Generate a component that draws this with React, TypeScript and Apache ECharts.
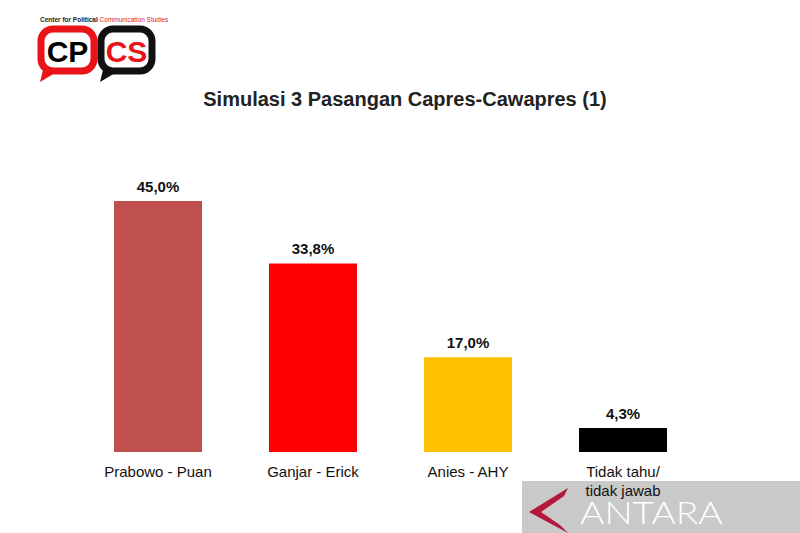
import React, { useEffect, useRef } from "react";
import * as echarts from "echarts";

const categories = ["Prabowo - Puan", "Ganjar - Erick", "Anies - AHY", "Tidak tahu/\ntidak jawab"];
const values = [45.0, 33.8, 17.0, 4.3];
const barColors = ["#C0504D", "#FF0000", "#FFC000", "#000000"];
const titleText = "Simulasi 3 Pasangan Capres-Cawapres (1)";

export default function App() {
  const ref = useRef<HTMLDivElement>(null);
  useEffect(() => {
    document.body.style.margin = "0";
    const chart = echarts.init(ref.current!, null, { renderer: "svg" });
    chart.setOption({
      animation: false,
      backgroundColor: "#ffffff",
      title: {
        text: titleText,
        left: 400,
        textAlign: "center",
        top: 84,
        textStyle: { fontFamily: "Liberation Sans", fontSize: 20, fontWeight: "bold", color: "#222" },
      },
      grid: { left: 80.5, right: 99.5, top: 173, bottom: 81 },
      xAxis: {
        type: "category",
        data: categories,
        axisLine: { show: false },
        axisTick: { show: false },
        axisLabel: {
          color: "#111",
          fontFamily: "Liberation Sans",
          fontSize: 15,
          margin: 10,
          lineHeight: 19,
          interval: 0,
        },
      },
      yAxis: { type: "value", min: 0, max: 50, show: false, splitLine: { show: false } },
      series: [
        {
          type: "bar",
          barWidth: 88,
          z: 5,
          data: values.map((v, i) => ({ value: v, itemStyle: { color: barColors[i] } })),
          label: {
            show: true,
            position: "top",
            distance: 7,
            fontFamily: "Liberation Sans",
            fontSize: 15,
            fontWeight: "bold",
            color: "#111",
            formatter: (p: any) => p.value.toFixed(1).replace(".", ",") + "%",
          },
        },
      ],
      graphic: [
        {
          type: "text",
          left: 40,
          top: 16,
          style: {
            text: "{a|Center for Political }{b|Communication Studies}",
            rich: {
              a: { fontSize: 6.5, fontWeight: "bold", fill: "#222", fontFamily: "Liberation Sans" },
              b: { fontSize: 6.5, fill: "#d22", fontFamily: "Liberation Sans" },
            },
          },
        },
        { type: "polygon", shape: { points: [[44, 66], [40, 82], [60, 70]] }, style: { fill: "#e8141a" } },
        { type: "rect", shape: { x: 41, y: 29, width: 53, height: 42, r: 12 }, style: { fill: "#fff", stroke: "#e8141a", lineWidth: 7 } },
        {
          type: "text", x: 67.5, y: 51,
          style: { text: "CP", fill: "#000", font: "bold 30px 'Liberation Sans'", align: "center", verticalAlign: "middle" },
        },
        { type: "polygon", shape: { points: [[104, 66], [100, 82], [120, 70]] }, style: { fill: "#111" } },
        { type: "rect", shape: { x: 101, y: 29, width: 51, height: 42, r: 12 }, style: { fill: "#fff", stroke: "#111", lineWidth: 7 } },
        {
          type: "text", x: 126.5, y: 51,
          style: { text: "CS", fill: "#e8141a", font: "bold 30px 'Liberation Sans'", align: "center", verticalAlign: "middle" },
        },
        {
          type: "rect", z: 0,
          shape: { x: 522, y: 481, width: 278, height: 52 },
          style: { fill: "#c9c9c9" },
        },
        {
          type: "polygon", z: 101,
          shape: { points: [[568, 488], [529, 512], [568, 533], [560, 525], [541, 512], [564, 496]] },
          style: { fill: "#b3173c" },
        },
        {
          type: "text", z: 101, x: 580, y: 512, scaleX: 1.2,
          style: {
            text: "ANTARA",
            fill: "#ffffff",
            font: "300 31px 'Lato'",
            verticalAlign: "middle",
          },
        },
      ],
    });
    return () => chart.dispose();
  }, []);
  return <div ref={ref} style={{ position: "fixed", left: 0, top: 0, width: 800, height: 533 }} />;
}
